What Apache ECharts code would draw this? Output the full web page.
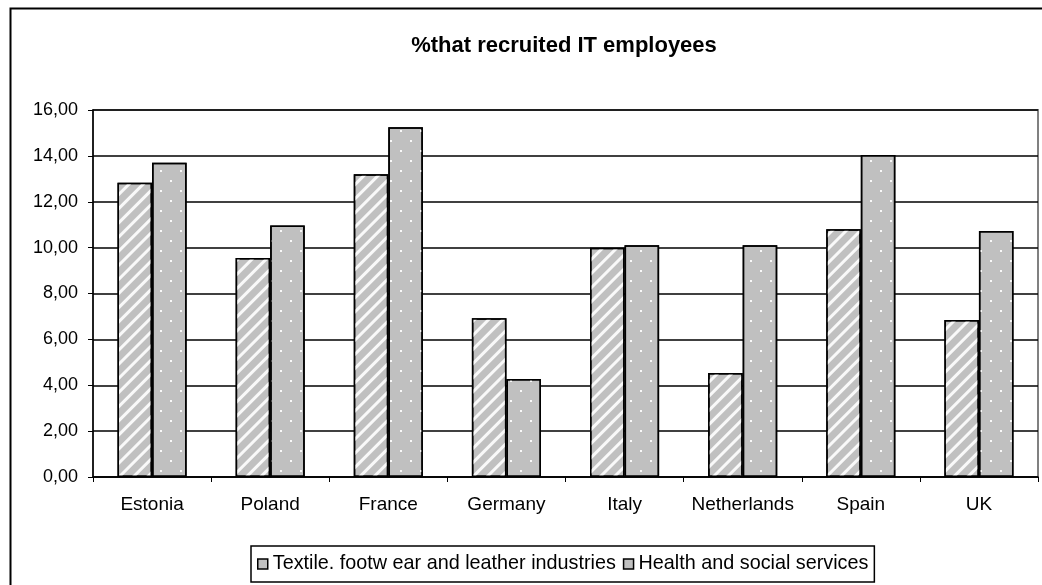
<!DOCTYPE html>
<html><head><meta charset="utf-8">
<script src="https://cdn.jsdelivr.net/npm/echarts@6/dist/echarts.min.js"></script>
<style>html,body{margin:0;padding:0;background:#fff}#c{width:1042px;height:585px}</style>
</head><body><div id="c"></div>
<script>
const categories = ['Estonia','Poland','France','Germany','Italy','Netherlands','Spain','UK'];
const textile = [12.83, 9.55, 13.2, 6.92, 10.0, 4.53, 10.8, 6.84];
const health = [13.70, 10.97, 15.25, 4.27, 10.1, 10.1, 14.04, 10.72];
const seriesNames = ['Textile. footw ear and leather industries', 'Health and social services'];
const titleText = '%that recruited IT employees';

const chart = echarts.init(document.getElementById('c'), null, {renderer:'canvas'});
const font = 'Liberation Sans, Arial, sans-serif';
chart.setOption({
  animation:false,
  backgroundColor:'#fff',
  grid:{left:93,right:4,top:110,bottom:108,show:true,borderColor:'#808080',borderWidth:2,backgroundColor:'transparent'},
  legend:{bottom:3,left:251,icon:'rect',itemWidth:10,itemHeight:10,itemGap:7,padding:[8,6,8,6],borderColor:'#000',borderWidth:1.5,
    textStyle:{fontFamily:font,fontSize:19.8,color:'#000',padding:[0,0,0,0]},
    data:[{name:seriesNames[0],itemStyle:{color:'#c0c0c0',borderColor:'#000',borderWidth:1.5,decal:'none'}},{name:seriesNames[1],itemStyle:{color:'#c0c0c0',borderColor:'#000',borderWidth:1.5,decal:'none'}}]},
  xAxis:{type:'category',data:categories,
    axisLine:{lineStyle:{color:'#000',width:1.5}},
    axisTick:{show:true,length:5,interval:0,lineStyle:{color:'#000'}},
    axisLabel:{fontFamily:font,fontSize:19,color:'#000',margin:18,interval:0}},
  yAxis:{type:'value',min:0,max:16,interval:2,
    axisLine:{show:true,lineStyle:{color:'#000',width:1.5}},
    axisTick:{show:true,length:5,lineStyle:{color:'#000'}},
    splitLine:{lineStyle:{color:'#000',width:1.5}},
    axisLabel:{fontFamily:font,fontSize:18,color:'#000',margin:15,formatter:v=>v.toFixed(2).replace('.',',')}},
  series:[
    {name:seriesNames[0],type:'bar',data:textile,barGap:'0%',barCategoryGap:'41.5%',
      itemStyle:{color:'#c0c0c0',borderColor:'#000',borderWidth:1.5,
        decal:{symbol:'rect',color:'rgba(255,255,255,0.9)',dashArrayX:[1,0],dashArrayY:[3,7],rotation:-Math.PI/4,symbolSize:1}}},
    {name:seriesNames[1],type:'bar',data:health,
      itemStyle:{color:'#c0c0c0',borderColor:'#000',borderWidth:1.5,
        decal:{symbol:'rect',color:'rgba(255,255,255,0.9)',dashArrayX:[[2,18],[0,10,2,8]],dashArrayY:[2,8],rotation:0,symbolSize:1}}}
  ],
  graphic:[
    {type:'rect',left:8,top:6,shape:{width:1100,height:700},style:{fill:'none',stroke:'#000',lineWidth:2},silent:true},
    {type:'text',x:564,y:46,style:{text:titleText,fontFamily:font,fontSize:22,fontWeight:'bold',fill:'#000',align:'center',verticalAlign:'middle'},silent:true}
  ]
});
</script></body></html>
